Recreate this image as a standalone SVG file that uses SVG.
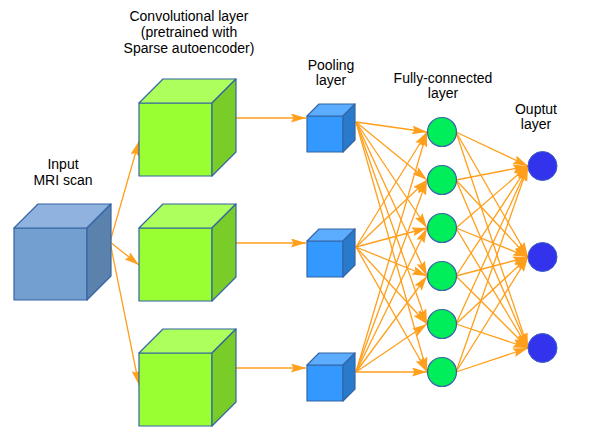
<svg xmlns="http://www.w3.org/2000/svg" width="594" height="435" viewBox="0 0 594 435">
<defs>
<style>
.lbl{font-family:"Liberation Sans",Arial,sans-serif;font-size:14px;fill:#000;text-anchor:middle}
.edge{stroke:#ff9f1c;stroke-width:1.3;fill:none;marker-end:url(#ah)}
.cs{stroke:#3465a4;stroke-width:1.2;stroke-linejoin:round}
.inF{fill:#729fcf}.inT{fill:#8fb3de}.inS{fill:#5b82ad}
.gF{fill:#99ff33}.gT{fill:#adff5c}.gS{fill:#7acc29}
.pF{fill:#3399ff}.pT{fill:#5cadff}.pS{fill:#2a7acc}
.fc{fill:#00ee5a;stroke:#3465a4;stroke-width:1.2}
.out{fill:#3333ee;stroke:#3b5fc0;stroke-width:1}
</style>
<marker id="ah" markerUnits="userSpaceOnUse" markerWidth="16" markerHeight="10" refX="15" refY="4.5" orient="auto">
<path d="M0,0 L15,4.5 L0,9 L2.5,4.5 Z" fill="#ff9f1c"/>
</marker>
</defs>
<rect width="594" height="435" fill="#ffffff"/>

<g id="connectors">
<line class="edge" x1="110" y1="242" x2="139" y2="141"/>
<line class="edge" x1="110" y1="242" x2="139" y2="265"/>
<line class="edge" x1="110" y1="242" x2="139" y2="385"/>
<line class="edge" x1="236" y1="118" x2="306" y2="118"/>
<line class="edge" x1="236" y1="243" x2="306" y2="243"/>
<line class="edge" x1="236" y1="368" x2="306" y2="368"/>
<g id="pool-to-fc">
<line class="edge" x1="356" y1="122" x2="427" y2="132"/>
<line class="edge" x1="356" y1="122" x2="427" y2="180"/>
<line class="edge" x1="356" y1="122" x2="427" y2="228"/>
<line class="edge" x1="356" y1="122" x2="427" y2="276"/>
<line class="edge" x1="356" y1="122" x2="427" y2="324"/>
<line class="edge" x1="356" y1="122" x2="427" y2="372"/>
<line class="edge" x1="356" y1="247" x2="427" y2="132"/>
<line class="edge" x1="356" y1="247" x2="427" y2="180"/>
<line class="edge" x1="356" y1="247" x2="427" y2="228"/>
<line class="edge" x1="356" y1="247" x2="427" y2="276"/>
<line class="edge" x1="356" y1="247" x2="427" y2="324"/>
<line class="edge" x1="356" y1="247" x2="427" y2="372"/>
<line class="edge" x1="356" y1="372" x2="427" y2="132"/>
<line class="edge" x1="356" y1="372" x2="427" y2="180"/>
<line class="edge" x1="356" y1="372" x2="427" y2="228"/>
<line class="edge" x1="356" y1="372" x2="427" y2="276"/>
<line class="edge" x1="356" y1="372" x2="427" y2="324"/>
<line class="edge" x1="356" y1="372" x2="427" y2="372"/>
</g>
<g id="fc-to-out">
<line class="edge" x1="456" y1="132" x2="528" y2="166"/>
<line class="edge" x1="456" y1="132" x2="528" y2="257"/>
<line class="edge" x1="456" y1="132" x2="528" y2="348"/>
<line class="edge" x1="456" y1="180" x2="528" y2="166"/>
<line class="edge" x1="456" y1="180" x2="528" y2="257"/>
<line class="edge" x1="456" y1="180" x2="528" y2="348"/>
<line class="edge" x1="456" y1="228" x2="528" y2="166"/>
<line class="edge" x1="456" y1="228" x2="528" y2="257"/>
<line class="edge" x1="456" y1="228" x2="528" y2="348"/>
<line class="edge" x1="456" y1="276" x2="528" y2="166"/>
<line class="edge" x1="456" y1="276" x2="528" y2="257"/>
<line class="edge" x1="456" y1="276" x2="528" y2="348"/>
<line class="edge" x1="456" y1="324" x2="528" y2="166"/>
<line class="edge" x1="456" y1="324" x2="528" y2="257"/>
<line class="edge" x1="456" y1="324" x2="528" y2="348"/>
<line class="edge" x1="456" y1="372" x2="528" y2="166"/>
<line class="edge" x1="456" y1="372" x2="528" y2="257"/>
<line class="edge" x1="456" y1="372" x2="528" y2="348"/>
</g>
</g>

<g id="input-cube" class="cs">
<rect class="inF" x="14" y="228" width="73" height="72"/>
<polygon class="inT" points="14,228 38,204 111,204 87,228"/>
<polygon class="inS" points="87,228 111,204 111,276 87,300"/>
</g>

<g id="conv-1" class="cs">
<rect class="gF" x="139" y="103" width="73" height="73"/>
<polygon class="gT" points="139,103 163,79 236,79 212,103"/>
<polygon class="gS" points="212,103 236,79 236,152 212,176"/>
</g>
<g id="conv-2" class="cs">
<rect class="gF" x="139" y="228" width="73" height="73"/>
<polygon class="gT" points="139,228 163,204 236,204 212,228"/>
<polygon class="gS" points="212,228 236,204 236,277 212,301"/>
</g>
<g id="conv-3" class="cs">
<rect class="gF" x="139" y="353" width="73" height="73"/>
<polygon class="gT" points="139,353 163,329 236,329 212,353"/>
<polygon class="gS" points="212,353 236,329 236,402 212,426"/>
</g>

<g id="pool-1" class="cs">
<rect class="pF" x="307" y="116" width="36" height="36"/>
<polygon class="pT" points="307,116 319,104 355,104 343,116"/>
<polygon class="pS" points="343,116 355,104 355,140 343,152"/>
</g>
<g id="pool-2" class="cs">
<rect class="pF" x="307" y="241" width="36" height="36"/>
<polygon class="pT" points="307,241 319,229 355,229 343,241"/>
<polygon class="pS" points="343,241 355,229 355,265 343,277"/>
</g>
<g id="pool-3" class="cs">
<rect class="pF" x="307" y="365" width="36" height="36"/>
<polygon class="pT" points="307,365 319,353 355,353 343,365"/>
<polygon class="pS" points="343,365 355,353 355,389 343,401"/>
</g>

<g id="fc-1"><circle class="fc" cx="442" cy="132" r="14.5"/></g>
<g id="fc-2"><circle class="fc" cx="442" cy="180" r="14.5"/></g>
<g id="fc-3"><circle class="fc" cx="442" cy="228" r="14.5"/></g>
<g id="fc-4"><circle class="fc" cx="442" cy="276" r="14.5"/></g>
<g id="fc-5"><circle class="fc" cx="442" cy="324" r="14.5"/></g>
<g id="fc-6"><circle class="fc" cx="442" cy="372" r="14.5"/></g>

<g id="out-1"><circle class="out" cx="542.5" cy="166" r="14.5"/></g>
<g id="out-2"><circle class="out" cx="542.5" cy="257" r="14.5"/></g>
<g id="out-3"><circle class="out" cx="542.5" cy="348" r="14.5"/></g>

<g id="labels">
<text class="lbl" x="189" y="21">Convolutional layer</text>
<text class="lbl" x="189" y="37">(pretrained with</text>
<text class="lbl" x="189" y="53">Sparse autoencoder)</text>
<text class="lbl" x="63" y="169">Input</text>
<text class="lbl" x="63" y="185">MRI scan</text>
<text class="lbl" x="331" y="70">Pooling</text>
<text class="lbl" x="331" y="85">layer</text>
<text class="lbl" x="443" y="83">Fully-connected</text>
<text class="lbl" x="443" y="98">layer</text>
<text class="lbl" x="536" y="114">Ouptut</text>
<text class="lbl" x="536" y="129">layer</text>
</g>
</svg>
